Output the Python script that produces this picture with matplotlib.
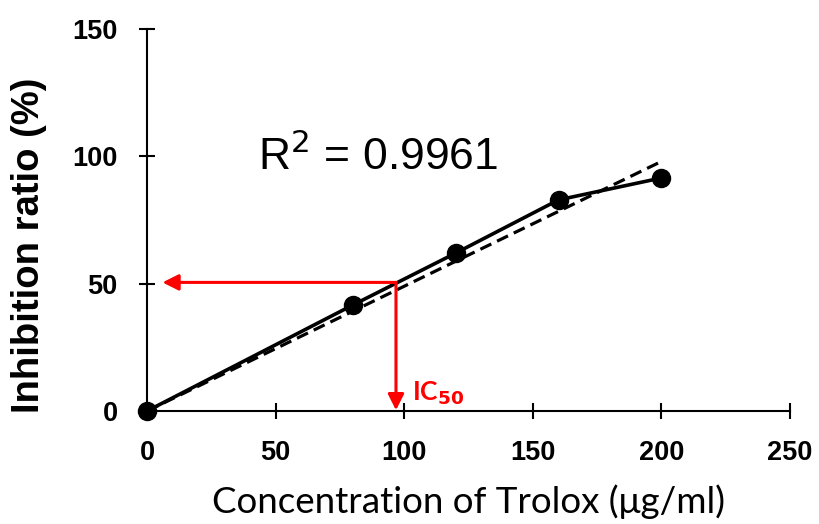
import numpy as np
import matplotlib
matplotlib.use("Agg")
import matplotlib.pyplot as plt

conc = [0, 80, 120, 160, 200]
inhibition = [0, 41.6, 62.0, 82.9, 91.5]
r2_text = "R$^2$ = 0.9961"
ic50_x = 96.8
ic50_y = 50.5
xticks = [0, 50, 100, 150, 200, 250]
yticks = [0, 50, 100, 150]

plt.rcParams['font.family'] = ['Liberation Sans', 'DejaVu Sans']

fig = plt.figure(figsize=(8.19, 5.24), dpi=100)
ax = fig.add_axes([0.1795, 0.2156, 0.9646 - 0.1795, 0.9447 - 0.2156])

# trendline through origin
x = np.array(conc, dtype=float)
y = np.array(inhibition, dtype=float)
slope = np.sum(x * y) / np.sum(x * x)
ax.plot([0, 200], [0, slope * 200], ls=(0, (3.8, 2.0)), color='black', lw=2.3, zorder=2)

ax.plot(conc, inhibition, color='black', lw=2.6, marker='o', markersize=13, zorder=3, clip_on=False)

# red arrows
ax.annotate('', xy=(6, ic50_y), xytext=(ic50_x, ic50_y),
            arrowprops=dict(arrowstyle='-|>', color='red', lw=2.2, mutation_scale=24,
                            shrinkA=0, shrinkB=0))
ax.annotate('', xy=(ic50_x, 0.3), xytext=(ic50_x, ic50_y),
            arrowprops=dict(arrowstyle='-|>', color='red', lw=2.2, mutation_scale=24,
                            shrinkA=0, shrinkB=0))
ax.text(103.0, 6.8, 'IC$_{\\mathbf{50}}$', color='red', fontsize=19, fontweight='bold',
        va='center', ha='left', family=['Lato', 'DejaVu Sans'])

ax.text(43, 100, r2_text, fontsize=32, va='center', ha='left')

ax.set_xlim(0, 250)
ax.set_ylim(0, 150)
ax.set_xticks(xticks)
ax.set_yticks(yticks)
for s in ['top', 'right']:
    ax.spines[s].set_visible(False)
for s in ['left', 'bottom']:
    ax.spines[s].set_linewidth(1.5)
ax.tick_params(direction='inout', length=12, width=1.5, labelsize=19.5)
ax.tick_params(axis='x', pad=15)
ax.tick_params(axis='y', pad=15)
for lab in ax.get_xticklabels() + ax.get_yticklabels():
    lab.set_fontweight('bold')

ax.set_ylabel('Inhibition ratio (%)', fontsize=27.5, fontweight='bold')
ax.yaxis.set_label_coords(-0.155, 0.435)
ax.set_xlabel('Concentration of Trolox (μg/ml)', fontsize=26.5, family=['Lato', 'DejaVu Sans'])
ax.xaxis.label.set_va('center')
ax.xaxis.set_label_coords(0.5, -0.238)

fig.savefig('out.png', dpi=100)
